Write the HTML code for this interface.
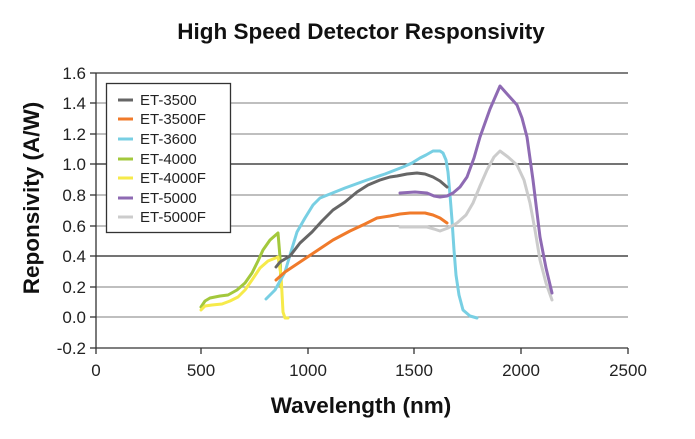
<!DOCTYPE html>
<html><head><meta charset="utf-8"><style>
body{margin:0;background:#fff;width:695px;height:439px;overflow:hidden}
svg{display:block}
text{font-family:"Liberation Sans",sans-serif}
</style></head><body>
<svg width="695" height="439" viewBox="0 0 695 439">
<text x="361" y="39" font-size="22.5" font-weight="bold" text-anchor="middle" fill="#111">High Speed Detector Responsivity</text>
<g stroke="#999" stroke-width="1.3">
<line x1="96" x2="628" y1="103" y2="103"/><line x1="96" x2="628" y1="134" y2="134"/>
<line x1="96" x2="628" y1="195" y2="195"/><line x1="96" x2="628" y1="226" y2="226"/>
<line x1="96" x2="628" y1="287" y2="287"/><line x1="96" x2="628" y1="317" y2="317"/>
</g>
<g stroke="#222" stroke-width="1.2">
<line x1="96" x2="628" y1="164" y2="164"/><line x1="96" x2="628" y1="256" y2="256"/>
</g>
<g stroke="#333" stroke-width="1.3" fill="none">
<line x1="96" x2="628" y1="73" y2="73"/>
<line x1="96" x2="628" y1="348" y2="348"/>
<line x1="96" x2="96" y1="73" y2="348"/>
<line x1="90" x2="96" y1="73" y2="73"/><line x1="90" x2="96" y1="103" y2="103"/><line x1="90" x2="96" y1="134" y2="134"/><line x1="90" x2="96" y1="164" y2="164"/><line x1="90" x2="96" y1="195" y2="195"/><line x1="90" x2="96" y1="226" y2="226"/><line x1="90" x2="96" y1="256" y2="256"/><line x1="90" x2="96" y1="287" y2="287"/><line x1="90" x2="96" y1="317" y2="317"/><line x1="90" x2="96" y1="348" y2="348"/>
<line x1="96" x2="96" y1="348" y2="354"/><line x1="201" x2="201" y1="348" y2="354"/><line x1="308" x2="308" y1="348" y2="354"/><line x1="414" x2="414" y1="348" y2="354"/><line x1="521" x2="521" y1="348" y2="354"/><line x1="628" x2="628" y1="348" y2="354"/>
</g>
<g font-size="17" fill="#222" text-anchor="end">
<text x="86" y="79">1.6</text><text x="86" y="109">1.4</text><text x="86" y="140">1.2</text><text x="86" y="170">1.0</text><text x="86" y="201">0.8</text><text x="86" y="232">0.6</text><text x="86" y="262">0.4</text><text x="86" y="293">0.2</text><text x="86" y="323">0.0</text><text x="86" y="354">-0.2</text>
</g>
<g font-size="17" fill="#222" text-anchor="middle">
<text x="96" y="376">0</text><text x="201" y="376">500</text><text x="308" y="376">1000</text><text x="414" y="376">1500</text><text x="521" y="376">2000</text><text x="628" y="376">2500</text>
</g>
<text x="361" y="413" font-size="22.5" font-weight="bold" text-anchor="middle" fill="#111">Wavelength (nm)</text>
<text transform="translate(39,198) rotate(-90)" font-size="22.5" font-weight="bold" text-anchor="middle" fill="#111">Reponsivity (A/W)</text>
<g fill="none" stroke-width="3" stroke-linejoin="round" stroke-linecap="round">
<polyline stroke="#a3c83c" points="201,307 205,301 210,298 220,296 228,295 237,290 245,283 252,273 258,261 263,250 270,240 278,233 280,257 281,287"/>
<polyline stroke="#f6ea4a" points="201,310 205,306 212,305 222,304 230,301 238,297 245,290 252,280 260,268 268,261 278,257 281,275 282,293 283,312 285,318 288,318"/>
<polyline stroke="#78cfe3" points="266,299 275,290 285,272 290,255 297,232 305,218 313,205 320,198 330,194 345,188 367,180 385,174 403,167 412,163 420,158 426,155 433,151 440,151 443,153 446,160 448,172 450,195 452,220 454,250 456,275 459,295 463,310 470,316 477,318"/>
<polyline stroke="#666" points="276,267 280,262 290,256 300,243 312,232 322,221 333,210 345,202 357,192 368,185 380,180 390,177 397,176 407,174 417,173 425,174 433,177 440,181 447,187"/>
<polyline stroke="#f07a2a" points="276,280 285,272 300,262 315,252 333,240 350,231 365,224 377,218 390,216 400,214 410,213 417,213 425,213 433,215 440,218 447,223"/>
<polyline stroke="#cccccc" points="400,227 415,227 427,227 434,229 440,231 448,228 457,223 466,215 473,203 480,186 487,170 494,157 500,151 508,157 517,165 524,180 530,203 535,230 540,260 546,283 552,300"/>
<polyline stroke="#8e6ab3" points="400,193 415,192 427,193 434,196 440,197 447,196 453,193 460,187 467,177 474,158 480,137 490,109 500,86 508,95 517,105 522,118 527,137 533,180 540,237 546,268 552,293"/>
</g>
<rect x="106.5" y="83.5" width="124" height="149" fill="#fff" stroke="#333" stroke-width="1.3"/>
<g stroke-width="3">
<line x1="118" x2="133" y1="100" y2="100" stroke="#666"/>
<line x1="118" x2="133" y1="119" y2="119" stroke="#f07a2a"/>
<line x1="118" x2="133" y1="139" y2="139" stroke="#78cfe3"/>
<line x1="118" x2="133" y1="159" y2="159" stroke="#a3c83c"/>
<line x1="118" x2="133" y1="178" y2="178" stroke="#f6ea4a"/>
<line x1="118" x2="133" y1="198" y2="198" stroke="#8e6ab3"/>
<line x1="118" x2="133" y1="217" y2="217" stroke="#cccccc"/>
</g>
<g font-size="15" fill="#222">
<text x="140" y="105">ET-3500</text><text x="140" y="124">ET-3500F</text><text x="140" y="144">ET-3600</text><text x="140" y="164">ET-4000</text><text x="140" y="183">ET-4000F</text><text x="140" y="203">ET-5000</text><text x="140" y="222">ET-5000F</text>
</g>
</svg>
</body></html>
